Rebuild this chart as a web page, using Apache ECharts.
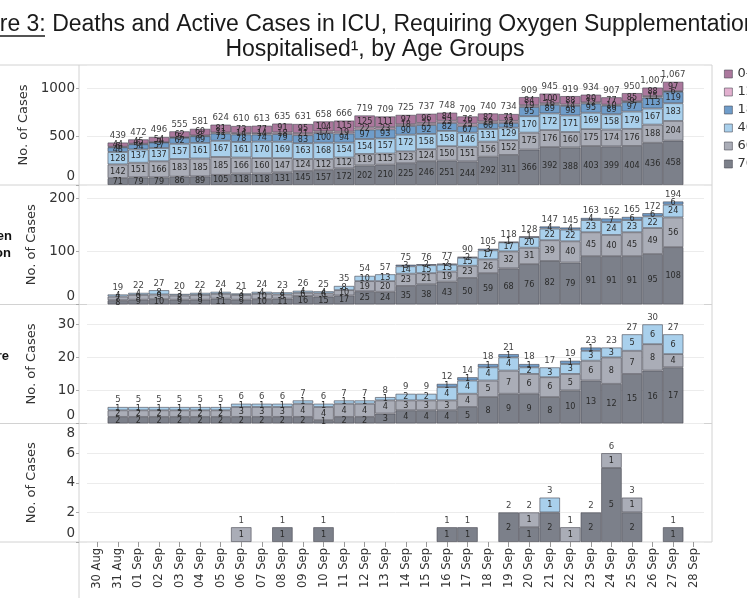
<!DOCTYPE html>
<html><head><meta charset="utf-8">
<script src="https://cdn.jsdelivr.net/npm/echarts@6/dist/echarts.min.js"></script>
<style>html,body{margin:0;padding:0;background:#fff}#c{width:747px;height:598px}</style>
</head><body><div id="c"></div>
<script>
const dates = ['30 Aug','31 Aug','01 Sep','02 Sep','03 Sep','04 Sep','05 Sep','06 Sep','07 Sep','08 Sep','09 Sep','10 Sep','11 Sep','12 Sep','13 Sep','14 Sep','15 Sep','16 Sep','17 Sep','18 Sep','19 Sep','20 Sep','21 Sep','22 Sep','23 Sep','24 Sep','25 Sep','26 Sep','27 Sep','28 Sep'];
const ageGroups = ['0-11','12-17','18-39','40-59','60-69','70+'];

// Panel 1: Hospitalised
const hosp70 = [null,71,79,79,86,89,105,118,118,131,145,157,172,202,210,225,246,251,244,292,311,366,392,388,403,399,404,436,458,null];
const hosp60 = [null,142,151,166,183,185,185,166,160,147,124,112,112,119,115,123,124,150,151,156,152,175,176,160,175,174,176,188,204,null];
const hosp40 = [null,128,137,137,157,161,167,161,170,169,163,168,154,154,157,172,158,158,146,131,129,170,172,171,169,158,179,167,183,null];
const hosp18 = [null,48,54,57,62,69,75,78,74,79,83,100,94,97,93,90,92,82,67,60,49,95,89,98,95,89,97,113,119,null];
const hosp12 = [null,6,6,3,5,8,11,14,14,18,21,17,19,22,23,18,21,23,25,19,22,19,16,14,12,10,9,15,6,null];
const hosp0  = [null,44,45,54,62,69,81,73,77,91,95,104,115,125,111,97,96,84,76,82,71,84,100,88,80,77,85,88,97,null];
const hospTotal = [null,439,472,496,555,581,624,610,613,635,631,658,666,719,709,725,737,748,709,740,734,909,945,919,934,907,950,1007,1067,null];

// Panel 2: Requiring Oxygen Supplementation
const oxy70 = [null,8,9,10,9,9,11,9,10,11,16,15,17,25,24,35,38,43,50,59,68,76,82,79,91,91,91,95,108,null];
const oxy60 = [null,7,9,9,8,9,9,9,10,8,6,6,10,19,20,23,21,19,23,26,32,31,39,40,45,40,45,49,56,null];
const oxy40 = [null,4,4,8,3,4,4,3,4,4,4,4,8,10,13,14,15,13,15,17,17,20,22,22,23,24,23,22,24,null];
const oxy18 = [null,null,null,null,null,null,null,null,null,null, null,null,null,null,null,3,2,2,2,3, 1,1,4,4,4,7,6,6,6,null];
const oxyTotal = [null,19,22,27,20,22,24,21,24,23,26,25,35,54,57,75,76,77,90,105,118,128,147,145,163,162,165,172,194,null];

// Panel 3: ICU
const icu70 = [null,2,2,2,2,2,2,2,2,2,2,1,2,2,3,4,4,4,5,8,9,9,8,10,13,12,15,16,17,null];
const icu60 = [null,2,2,2,2,2,2,3,3,3,4,4,4,4,4,3,3,3,4,5,7,6,6,5,6,8,7,8,4,null];
const icu40 = [null,1,1,1,1,1,1,1,1,1,1,1,1,1,1,2,2,4,4,4,4,2,3,3,3,3,5,6,6,null];
const icu18 = [null,null,null,null,null,null,null,null,null,null, null,null,null,null,null,null,null,1,1,1, 1,1,null,1,1,null,null,null,null,null];
const icuTotal = [null,5,5,5,5,5,5,6,6,6,7,6,7,7,8,9,9,12,14,18,21,18,17,19,23,23,27,30,27,null];

// Panel 4: Deaths
const death70 = [null,null,null,null,null,null,null,null,null,1, null,1,null,null,null,null,null,1,1,null, 2,1,2,null,2,5,2,null,1,null];
const death60 = [null,null,null,null,null,null,null,1,null,null, null,null,null,null,null,null,null,null,null,null, null,1,null,1,null,1,1,null,null,null];
const death40 = [null,null,null,null,null,null,null,null,null,null, null,null,null,null,null,null,null,null,null,null, null,null,1,null,null,null,null,null,null,null];
const deathTotal = [null,null,null,null,null,null,null,1,null,1, null,1,null,null,null,null,null,1,1,null, 2,2,3,1,2,6,3,null,1,null];

const yMax = [1240, 225, 36, 8];
const yInterval = [500, 100, 10, 2];

// ---- styles ----
const groupColors = {'0-11':'#ab789d','12-17':'#e2b0cf','18-39':'#6f9dca','40-59':'#a9d0ec','60-69':'#aaadb7','70+':'#7c808a'};
const panels = [
  {stack: [['70+',hosp70],['60-69',hosp60],['40-59',hosp40],['18-39',hosp18],['12-17',hosp12],['0-11',hosp0]], total: hospTotal},
  {stack: [['70+',oxy70],['60-69',oxy60],['40-59',oxy40],['18-39',oxy18]], total: oxyTotal},
  {stack: [['70+',icu70],['60-69',icu60],['40-59',icu40],['18-39',icu18]], total: icuTotal},
  {stack: [['70+',death70],['60-69',death60],['40-59',death40]], total: deathTotal}
];
const gridTops = [65, 185, 304.5, 423.5];
const gridHeights = [120, 119.5, 119, 118.5];
const labelFont = '"DejaVu Sans Condensed","DejaVu Sans",sans-serif';
const axisFont = '"DejaVu Sans",sans-serif';
const fmtNum = v => v >= 1000 ? Math.floor(v/1000) + ',' + String(v % 1000).padStart(3,'0') : String(v);

const grids = [], xAxes = [], yAxes = [], series = [];
panels.forEach((p, i) => {
  grids.push({left: 87, right: 43, top: gridTops[i], height: gridHeights[i]});
  const last = i === panels.length - 1;
  xAxes.push({
    type: 'category', gridIndex: i, data: dates, show: last,
    axisLine: {show: false},
    axisTick: {show: last, alignWithLabel: true, length: 5, lineStyle: {color: '#999'}},
    axisLabel: {show: last, rotate: 90, interval: 0, fontSize: 11.5, color: '#333', margin: 6, fontFamily: axisFont}
  });
  const iv = yInterval[i];
  yAxes.push({
    type: 'value', gridIndex: i, min: 0, max: yMax[i], interval: iv, offset: 8,
    axisLine: {show: false},
    axisTick: {show: true, length: 3, lineStyle: {color: '#aaa'}},
    splitLine: {lineStyle: {color: '#ececec'}},
    axisLabel: {
      fontSize: 13.5, color: '#333', margin: 4, fontFamily: axisFont, showMaxLabel: i === 3,
      formatter: v => {
        if (v % iv !== 0) return '';
        if (v === 0) return '{b|0}';
        if (i === 3 && v === yMax[i]) return '{t|' + v + '}';
        return String(v);
      },
      rich: {
        b: {fontSize: 13.5, color: '#333', fontFamily: axisFont, padding: [0,0,17,0]},
        t: {fontSize: 13.5, color: '#333', fontFamily: axisFont, padding: [20,0,0,0]}
      }
    },
    name: 'No. of Cases', nameLocation: 'middle', nameGap: 41,
    nameTextStyle: {fontSize: 13, color: '#333', fontFamily: axisFont}
  });
  p.stack.forEach(([g, arr]) => {
    series.push({
      type: 'bar', name: g, xAxisIndex: i, yAxisIndex: i, stack: 'p' + i,
      barCategoryGap: '0%', data: arr,
      itemStyle: {color: groupColors[g], borderColor: 'rgba(70,70,80,0.75)', borderWidth: 0.8},
      label: {show: true, position: 'inside', fontSize: 9, color: '#2a2a2a', fontFamily: labelFont,
              formatter: q => q.value ? String(q.value) : ''},
      emphasis: {disabled: true}
    });
  });
  series.push({
    type: 'bar', name: 'Total', xAxisIndex: i, yAxisIndex: i, stack: 'p' + i,
    barCategoryGap: '0%', silent: true,
    data: p.total.map(t => t == null ? null : 0),
    itemStyle: {color: 'rgba(0,0,0,0)'},
    label: {show: true, position: 'top', distance: 2, fontSize: 9.5, color: '#444', fontFamily: labelFont,
            formatter: q => p.total[q.dataIndex] == null ? '' : fmtNum(p.total[q.dataIndex])}
  });
});

const frame = '#d2d2d2';
const graphic = [];
[65, 185, 304.5, 423.5, 542].forEach(y => graphic.push({type: 'line', silent: true, shape: {x1: 0, y1: y, x2: 712, y2: y}, style: {stroke: frame, lineWidth: 1}}));
graphic.push({type: 'line', silent: true, shape: {x1: 79, y1: 65, x2: 79, y2: 598}, style: {stroke: frame, lineWidth: 1}});
graphic.push({type: 'line', silent: true, shape: {x1: 712, y1: 65, x2: 712, y2: 542}, style: {stroke: frame, lineWidth: 1}});
const titleFont = '23px "Liberation Sans", Arial, sans-serif';
graphic.push({type: 'text', silent: true, x: -45, y: 25, style: {text: 'Figure 3: Deaths and Active Cases in ICU, Requiring Oxygen Supplementation and', font: titleFont, fill: '#1a1a1a', align: 'left', verticalAlign: 'middle', textAlign: 'left', textVerticalAlign: 'middle'}});
graphic.push({type: 'line', silent: true, shape: {x1: -45, y1: 36, x2: 45, y2: 36}, style: {stroke: '#1a1a1a', lineWidth: 1.5}});
graphic.push({type: 'text', silent: true, x: 375, y: 50, style: {text: 'Hospitalised¹, by Age Groups', font: titleFont, fill: '#1a1a1a', align: 'center', verticalAlign: 'middle', textAlign: 'center', textVerticalAlign: 'middle'}});
const rowFont = 'bold 13px "Liberation Sans", Arial, sans-serif';
[['Requiring Oxygen', 12, 236], ['Supplementation', 11, 253], ['Intensive Care', 9, 356]].forEach(([t, x, y]) => {
  graphic.push({type: 'text', silent: true, x: x, y: y, style: {text: t, font: rowFont, fill: '#111', align: 'right', verticalAlign: 'middle', textAlign: 'right', textVerticalAlign: 'middle'}});
});

const chart = echarts.init(document.getElementById('c'));
chart.setOption({
  animation: false,
  backgroundColor: '#fff',
  grid: grids, xAxis: xAxes, yAxis: yAxes, series: series, graphic: graphic,
  legend: {
    data: ageGroups, orient: 'vertical', left: 724, top: 67, padding: 0, itemWidth: 8, itemHeight: 8, itemGap: 4, itemTextGap: 5,
    icon: 'rect', textStyle: {fontSize: 13, color: '#333', fontFamily: axisFont, lineHeight: 14},
    itemStyle: {borderColor: 'rgba(70,70,80,0.7)', borderWidth: 0.8}
  }
});
</script></body></html>
